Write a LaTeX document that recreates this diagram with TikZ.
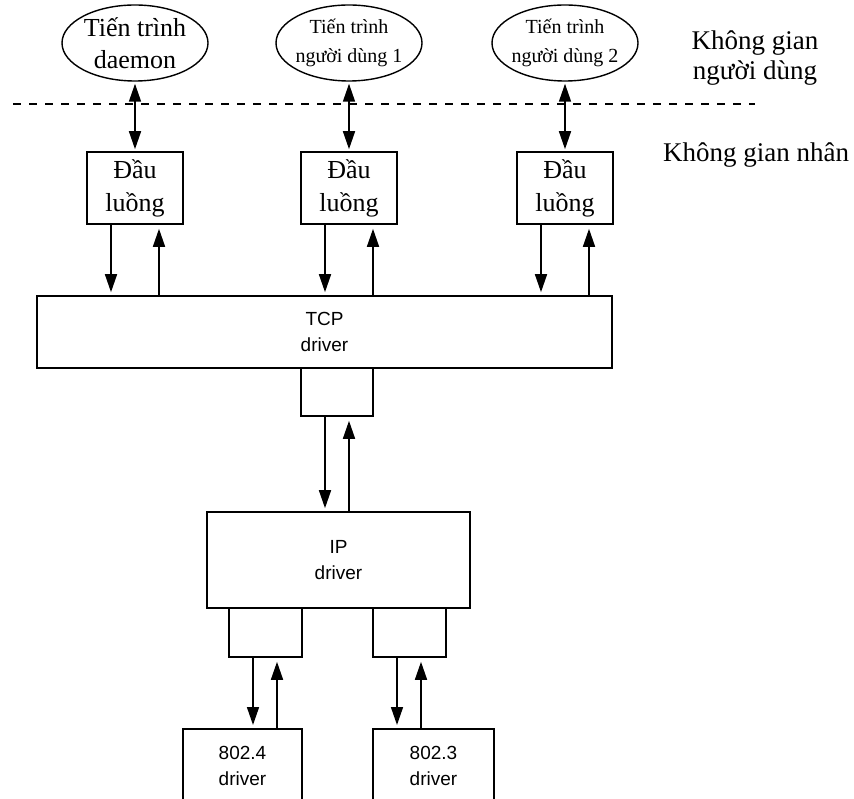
\documentclass[tikz,border=0pt]{standalone}
\usepackage{fontspec}
\newfontfamily\vnfont{Liberation Serif}
\newfontfamily\drvfont{Liberation Sans}
\usetikzlibrary{shapes.geometric,arrows.meta}
\begin{document}
\begin{tikzpicture}[x=1pt,y=-1pt,
  line width=1.6pt,
  proc/.style={draw, ellipse, line width=1.4pt, minimum width=146pt, minimum height=76pt, inner sep=0pt},
  proctext/.style={font=\vnfont\fontsize{20}{29}\selectfont, align=center, inner sep=0pt},
  bigproctext/.style={font=\vnfont\fontsize{26}{32}\selectfont, align=center, inner sep=0pt},
  headbox/.style={draw, rectangle, minimum width=96pt, minimum height=72pt, inner sep=0pt,
    align=center, font=\vnfont\fontsize{26}{33}\selectfont},
  drvbox/.style={draw, rectangle, inner sep=0pt, align=center,
    font=\drvfont\fontsize{19}{26}\selectfont},
  portbox/.style={draw, rectangle, inner sep=0pt},
  zonelabel/.style={font=\vnfont\fontsize{27}{30}\selectfont, align=center, inner sep=0pt},
  tip/.tip={Triangle[length=18pt,width=12pt]},
  biarr/.style={tip-tip, shorten <=2pt, shorten >=2pt},
  downarr/.style={-tip, shorten >=3pt},
  uparr/.style={-tip, shorten >=4pt},
]
\useasboundingbox (0,0) rectangle (854,799);
\clip (0,0) rectangle (854,799);

% user-space processes
\node[proc] (e1) at (135,43) {};
\node[bigproctext] (e1t) at (e1.center) {Tiến trình\\daemon};
\node[proc] (e2) at (349,43) {};
\node[proctext] (e2t) at (e2.center) {Tiến trình\\người dùng 1};
\node[proc] (e3) at (565,43) {};
\node[proctext] (e3t) at (e3.center) {Tiến trình\\người dùng 2};

% user / kernel boundary
\coordinate (bl) at (13,104);
\coordinate (br) at (755,104);
\draw[line width=1.4pt, dash pattern=on 8pt off 8pt] (bl) -- (br);
\node[zonelabel] (uspace) at (755,58) {Không gian\\người dùng};
\node[zonelabel] (kspace) at (756,155) {Không gian nhân};

% stream heads
\node[headbox] (h1) at (135,188) {Đầu\\luồng};
\node[headbox] (h2) at (349,188) {Đầu\\luồng};
\node[headbox] (h3) at (565,188) {Đầu\\luồng};

% drivers
\node[drvbox, minimum width=575pt, minimum height=72pt] (tcp) at (324.5,332) {TCP\\driver};
\node[portbox, minimum width=72pt, minimum height=48pt] (s0) at (337,392) {};
\node[drvbox, minimum width=263pt, minimum height=96pt] (ip) at (338.5,560) {IP\\driver};
\node[portbox, minimum width=73pt, minimum height=49pt] (sa) at (265.5,632.5) {};
\node[portbox, minimum width=73pt, minimum height=49pt] (sb) at (409.5,632.5) {};
\node[drvbox, minimum width=119pt, minimum height=74pt, anchor=north] (d4) at (242.5,728) {802.4\\driver};
\node[drvbox, minimum width=121pt, minimum height=74pt, anchor=north] (d3) at (433.5,728) {802.3\\driver};

% process <-> stream head
\draw[biarr] (e1.south) -- (h1.north);
\draw[biarr] (e2.south) -- (h2.north);
\draw[biarr] (e3.south) -- (h3.north);

% stream heads <-> TCP
\foreach \h in {h1,h2,h3}{
  \draw[downarr] ([xshift=-24pt]\h.south) -- ([xshift=-24pt]\h.south |- tcp.north);
  \draw[uparr] ([xshift=24pt]\h.south |- tcp.north) -- ([xshift=24pt]\h.south);
}

% TCP <-> IP
\draw[downarr] ([xshift=-12pt]s0.south) -- ([xshift=-12pt]s0.south |- ip.north);
\draw[uparr] ([xshift=12pt]s0.south |- ip.north) -- ([xshift=12pt]s0.south);

% IP <-> network drivers
\draw[downarr] ([xshift=-12.5pt]sa.south) -- ([xshift=-12.5pt]sa.south |- d4.north);
\draw[uparr] ([xshift=11.5pt]sa.south |- d4.north) -- ([xshift=11.5pt]sa.south);
\draw[downarr] ([xshift=-12.5pt]sb.south) -- ([xshift=-12.5pt]sb.south |- d3.north);
\draw[uparr] ([xshift=11.5pt]sb.south |- d3.north) -- ([xshift=11.5pt]sb.south);
\end{tikzpicture}
\end{document}
